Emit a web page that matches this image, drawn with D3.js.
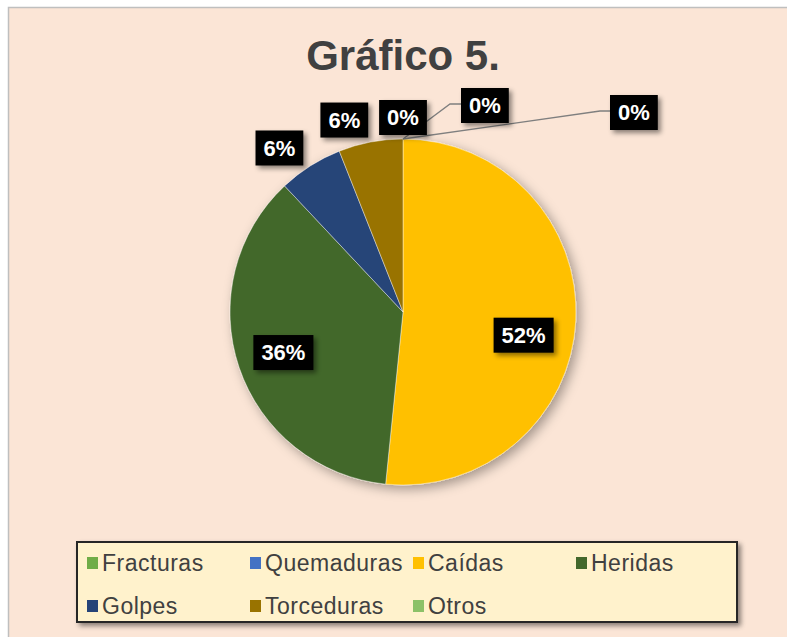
<!DOCTYPE html>
<html>
<head>
  <meta charset="utf-8">
  <script src="https://cdn.jsdelivr.net/npm/d3@7"></script>
  <style>
    body { margin: 0; background: #fff; }
    text { font-family: "Liberation Sans", Arial, sans-serif; }
  </style>
</head>
<body>
<script>
// chart data
var categories = ["Fracturas", "Quemaduras", "Caídas", "Heridas", "Golpes", "Torceduras", "Otros"];
var values = [0, 0, 51.6, 36.4, 6, 6, 0];
var colors = ["#70AD47", "#4472C4", "#FFC000", "#43682B", "#264478", "#997300", "#8CC168"];
var title = "Gráfico 5.";

var width = 787, height = 637;
var cx = 403, cy = 312, R = 173;

var svg = d3.select("body").append("svg")
  .attr("width", width).attr("height", height);

// shadows
var defs = svg.append("defs");
function shadow(id, dx, dy, sd, op) {
  defs.append("filter").attr("id", id)
      .attr("x", "-30%").attr("y", "-30%").attr("width", "160%").attr("height", "160%")
    .append("feDropShadow")
      .attr("dx", dx).attr("dy", dy).attr("stdDeviation", sd)
      .attr("flood-color", "#000").attr("flood-opacity", op);
}
shadow("pieShadow", 4, 4, 6, 0.35);
shadow("boxShadow", 3, 3, 2.5, 0.45);

// chart area
svg.append("rect")
  .attr("x", 8.5).attr("y", 7.5)
  .attr("width", width + 10).attr("height", height + 10)
  .attr("fill", "#FBE5D6").attr("stroke", "#BFBFBF").attr("stroke-width", 1.5);

svg.append("text")
  .attr("x", cx).attr("y", 70)
  .attr("text-anchor", "middle")
  .attr("font-size", 42).attr("font-weight", "bold")
  .attr("fill", "#404040")
  .text(title);

var data = categories.map(function(c, i) { return {name: c, value: values[i], color: colors[i]}; });
var pie = d3.pie().sort(null).value(function(d) { return d.value; });
var arcs = pie(data);
var arc = d3.arc().innerRadius(0).outerRadius(R);

var g = svg.append("g").attr("transform", "translate(" + cx + "," + cy + ")");

g.append("g").attr("filter", "url(#pieShadow)")
  .selectAll("path")
  .data(arcs.filter(function(d) { return d.value > 0; }))
  .join("path")
    .attr("d", arc)
    .attr("fill", function(d) { return d.data.color; })
    .attr("stroke", "#fff").attr("stroke-width", 0.6).attr("stroke-opacity", 0.7);

// label layout
var total = d3.sum(values);
function pct(d) { return Math.round(d.value / total * 100) + "%"; }
var boxH = 35, pad = 8, labelSize = 22;

function mid(d) { return (d.startAngle + d.endAngle) / 2; }

// measure text widths
var measure = g.append("text").attr("font-size", labelSize).attr("font-weight", "bold");
arcs.forEach(function(d) {
  measure.text(pct(d));
  d.w = measure.node().getComputedTextLength() + 2 * pad;
});
measure.remove();

// best-fit tweaks: angle shifts (degrees) for crowded outside labels,
// and leader offsets for the zero slices pushed out to the right
var angleShift = {"Caídas": 8, "Golpes": -4.6, "Torceduras": -6.2};
var pushed = {"Fracturas": [47, -35, 11], "Quemaduras": [197, -28, 10]};

arcs.forEach(function(d) {
  var a = mid(d) + (angleShift[d.data.name] || 0) * Math.PI / 180;
  if (d.value / total > 0.2) {
    var rr = d.data.name === "Caídas" ? 0.71 : 0.73;
    d.lx = Math.sin(a) * R * rr;
    d.ly = -Math.cos(a) * R * rr;
  } else if (pushed[d.data.name]) {
    var p = pushed[d.data.name];
    var ax = Math.sin(a) * R, ay = -Math.cos(a) * R;
    d.leader = [[ax, ay], [ax + p[0], ay + p[1]], [ax + p[0] + p[2], ay + p[1]]];
    d.lx = ax + p[0] + p[2] + d.w / 2;
    d.ly = ay + p[1] + 1.5;
  } else {
    var proj = (d.w / 2) * Math.abs(Math.sin(a)) + (boxH / 2) * Math.abs(Math.cos(a));
    var r2 = R + 4 + proj;
    d.lx = Math.sin(a) * r2;
    d.ly = -Math.cos(a) * r2;
  }
});

g.selectAll("path.leader")
  .data(arcs.filter(function(d) { return d.leader; }))
  .join("path")
    .attr("class", "leader")
    .attr("d", function(d) { return d3.line()(d.leader); })
    .attr("fill", "none").attr("stroke", "#7F7F7F").attr("stroke-width", 1.3);

var labels = g.selectAll("g.lbl").data(arcs).join("g")
  .attr("class", "lbl")
  .attr("transform", function(d) { return "translate(" + d.lx + "," + d.ly + ")"; });

labels.append("rect")
  .attr("x", function(d) { return -d.w / 2; }).attr("y", -boxH / 2)
  .attr("width", function(d) { return d.w; }).attr("height", boxH)
  .attr("fill", "#000")
  .attr("filter", "url(#boxShadow)");

labels.append("text")
  .attr("text-anchor", "middle").attr("dy", "0.36em")
  .attr("font-size", labelSize).attr("font-weight", "bold")
  .attr("fill", "#fff")
  .text(pct);

// legend
var lg = svg.append("g");
var lx = 77, ly = 542, lw = 660, lh = 80;
lg.append("rect")
  .attr("x", lx).attr("y", ly).attr("width", lw).attr("height", lh)
  .attr("fill", "#FFF2CC").attr("stroke", "#262626").attr("stroke-width", 2)
  .attr("filter", "url(#boxShadow)");

var cols = 4, colW = 163, rowH = 43;
var items = lg.selectAll("g.item").data(data).join("g")
  .attr("class", "item")
  .attr("transform", function(d, i) {
    return "translate(" + (lx + 10 + (i % cols) * colW) + "," + (ly + 21 + Math.floor(i / cols) * rowH) + ")";
  });
items.append("rect")
  .attr("x", 0).attr("y", -6).attr("width", 11).attr("height", 12)
  .attr("fill", function(d) { return d.color; });
items.append("text")
  .attr("x", 15).attr("dy", "0.36em")
  .attr("font-size", 23).attr("letter-spacing", 0.5)
  .attr("fill", "#404040")
  .text(function(d) { return d.name; });
</script>
</body>
</html>
